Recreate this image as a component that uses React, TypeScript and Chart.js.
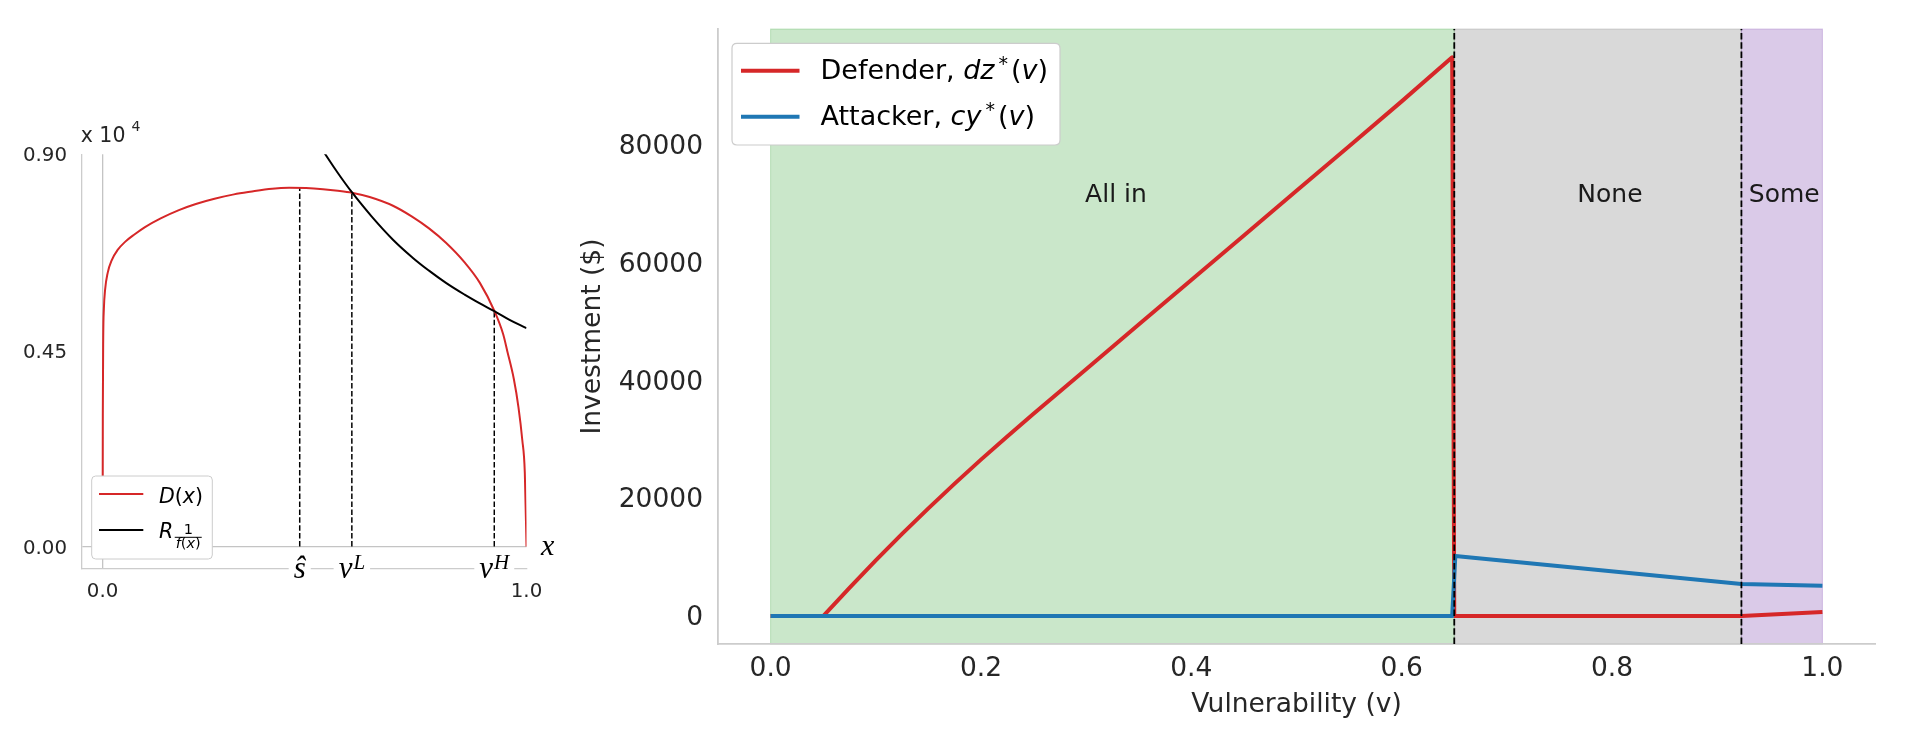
import React, { useEffect, useRef } from 'react';
import { Chart, registerables } from 'chart.js';

Chart.register(...registerables);

const SANS = "'DejaVu Sans', sans-serif";
const SERIF = "'Liberation Serif', 'DejaVu Serif', serif";
const TXT = '#262626';

// ---------------- Left panel data ----------------
const D_X = [0, 0.0005, 0.0015, 0.003, 0.006, 0.012, 0.022, 0.035, 0.053, 0.075, 0.1, 0.137, 0.18, 0.22, 0.264, 0.31, 0.348, 0.4, 0.44, 0.48, 0.52, 0.555, 0.588, 0.63, 0.685, 0.73, 0.77, 0.81, 0.854, 0.89, 0.924, 0.945, 0.955, 0.97, 0.981, 0.99, 0.996, 1.0];
const D_Y = [0, 0.3, 0.48, 0.545, 0.59, 0.628, 0.658, 0.68, 0.699, 0.716, 0.733, 0.753, 0.772, 0.786, 0.798, 0.808, 0.814, 0.821, 0.823, 0.8225, 0.82, 0.8165, 0.812, 0.802, 0.782, 0.757, 0.73, 0.697, 0.652, 0.605, 0.541, 0.487, 0.447, 0.385, 0.32, 0.245, 0.17, 0];
const R_X = [0.52, 0.555, 0.588, 0.635, 0.685, 0.73, 0.77, 0.81, 0.854, 0.89, 0.924, 0.96, 1.0];
const R_Y = [0.908, 0.857, 0.813, 0.757, 0.704, 0.664, 0.633, 0.605, 0.578, 0.558, 0.54, 0.52, 0.501];
const MARK_X = [0.465, 0.588, 0.924];
const MARK_TOP = [0.823, 0.812, 0.541];
const MARK_BASE = ['ŝ', 'v', 'v'];
const MARK_SUP = ['', 'L', 'H'];
const L_XTICKS = [0, 1];
const L_YTICKS = [0, 0.45, 0.9];
const L_XMIN = -0.05, L_XMAX = 1.0, L_YMIN = -0.05, L_YMAX = 0.9;

// ---------------- Right panel data ----------------
const V_DEF = [0, 0.05, 0.075, 0.1, 0.125, 0.15, 0.175, 0.2, 0.225, 0.25, 0.3, 0.35, 0.4, 0.45, 0.5, 0.55, 0.6, 0.648, 0.65, 0.923, 1.0];
const DEF_Y = [0, 0, 4800, 9450, 13950, 18300, 22500, 26575, 30525, 34375, 41950, 49525, 57100, 64675, 72250, 79825, 87450, 94950, 0, 0, 700];
const V_ATT = [0, 0.648, 0.651, 0.923, 1.0];
const ATT_Y = [0, 0, 10200, 5450, 5160];
const REGION_START = [0, 0.65, 0.923];
const REGION_END = [0.65, 0.923, 1.0];
const REGION_FILL = ['rgba(44,160,44,0.25)', 'rgba(128,128,128,0.3)', 'rgba(148,103,189,0.35)'];
const REGION_LABELS = ['All in', 'None', 'Some'];
const LABEL_X = [0.299, 0.767, 0.93];
const LABEL_Y = 72000;
const DASH_V = [0.65, 0.923];
const R_XTICKS = [0, 0.2, 0.4, 0.6, 0.8, 1.0];
const R_YTICKS = [0, 20000, 40000, 60000, 80000];
const R_XMIN = -0.05, R_XMAX = 1.05, R_YMIN = -4750, R_YMAX = 99750;

type Run = { t: string; font: string; dx?: number; dy?: number };

function runsWidth(ctx: CanvasRenderingContext2D, runs: Run[]) {
  let w = 0;
  for (const r of runs) {
    ctx.font = r.font;
    w += (r.dx || 0) + ctx.measureText(r.t).width;
  }
  return w;
}

function drawRuns(ctx: CanvasRenderingContext2D, x: number, y: number, runs: Run[]) {
  let cx = x;
  for (const r of runs) {
    cx += r.dx || 0;
    ctx.font = r.font;
    ctx.fillText(r.t, cx, y + (r.dy || 0));
    cx += ctx.measureText(r.t).width;
  }
  return cx;
}

function roundRect(ctx: CanvasRenderingContext2D, x: number, y: number, w: number, h: number, r: number) {
  ctx.beginPath();
  ctx.moveTo(x + r, y);
  ctx.lineTo(x + w - r, y);
  ctx.quadraticCurveTo(x + w, y, x + w, y + r);
  ctx.lineTo(x + w, y + h - r);
  ctx.quadraticCurveTo(x + w, y + h, x + w - r, y + h);
  ctx.lineTo(x + r, y + h);
  ctx.quadraticCurveTo(x, y + h, x, y + h - r);
  ctx.lineTo(x, y + r);
  ctx.quadraticCurveTo(x, y, x + r, y);
  ctx.closePath();
}

const leftPlugin = {
  id: 'leftDecor',
  afterDraw(chart: any) {
    const { ctx, chartArea: ca, scales } = chart;
    const xs = scales.x, ys = scales.y;
    ctx.save();
    const big = `italic 31px ${SERIF}`;
    const sup = `italic 21px ${SERIF}`;
    for (let i = 0; i < MARK_X.length; i++) {
      const px = xs.getPixelForValue(MARK_X[i]);
      const runs: Run[] = [{ t: MARK_BASE[i], font: big }];
      if (MARK_SUP[i]) runs.push({ t: MARK_SUP[i], font: sup, dx: 1, dy: -8.4 });
      const w = runsWidth(ctx, runs);
      const sx = px - w / 2;
      ctx.fillStyle = '#ffffff';
      ctx.fillRect(sx - 5, ca.bottom - 3, w + 10, 6);
      ctx.fillStyle = '#000000';
      ctx.textBaseline = 'alphabetic';
      ctx.textAlign = 'left';
      drawRuns(ctx, sx, ca.bottom + 9.4, runs);
    }
    ctx.fillStyle = '#000000';
    ctx.font = `italic 30px ${SERIF}`;
    ctx.textAlign = 'left';
    ctx.textBaseline = 'alphabetic';
    ctx.fillText('x', ca.right + 14.5, ys.getPixelForValue(0) + 8.5);
    ctx.fillStyle = TXT;
    const ex = drawRuns(ctx, ca.left - 0.7, ca.top - 12.6, [{ t: 'x 10', font: `20.5px ${SANS}` }]);
    drawRuns(ctx, ex + 6, ca.top - 23.5, [{ t: '4', font: `14px ${SANS}` }]);

    // legend
    const bx = ca.left + 10.3, by = ca.bottom - 92.3, bw = 120.6, bh = 83;
    roundRect(ctx, bx, by, bw, bh, 4);
    ctx.fillStyle = '#ffffff';
    ctx.fill();
    ctx.strokeStyle = '#cccccc';
    ctx.lineWidth = 1;
    ctx.stroke();
    const ds = chart.data.datasets;
    const rows = [by + 18, by + 54];
    for (let k = 0; k < 2; k++) {
      ctx.beginPath();
      ctx.moveTo(bx + 7.3, rows[k]);
      ctx.lineTo(bx + 51.6, rows[k]);
      ctx.strokeStyle = ds[k].borderColor;
      ctx.lineWidth = 2;
      ctx.stroke();
    }
    ctx.fillStyle = '#000000';
    const it20 = `italic 20.5px ${SANS}`, n20 = `20.5px ${SANS}`;
    drawRuns(ctx, bx + 67.3, by + 27.3, [
      { t: 'D', font: it20 }, { t: '(', font: n20 }, { t: 'x', font: it20 }, { t: ')', font: n20 },
    ]);
    const rEnd = drawRuns(ctx, bx + 67.3, by + 62.3, [{ t: 'R', font: it20 }]);
    const it14 = `italic 14.5px ${SANS}`, n14 = `14.5px ${SANS}`;
    const den: Run[] = [{ t: 'f', font: it14 }, { t: '(', font: n14 }, { t: 'x', font: it14 }, { t: ')', font: n14 }];
    const dw = runsWidth(ctx, den);
    const fx0 = rEnd + 1.5, fw = dw + 2;
    ctx.beginPath();
    ctx.moveTo(fx0, by + 61.3);
    ctx.lineTo(fx0 + fw, by + 61.3);
    ctx.strokeStyle = '#000000';
    ctx.lineWidth = 1;
    ctx.stroke();
    ctx.font = n14;
    const nw = ctx.measureText('1').width;
    ctx.fillText('1', fx0 + fw / 2 - nw / 2, by + 58);
    drawRuns(ctx, fx0 + 1, by + 72.3, den);
    ctx.restore();
  },
};

const rightPlugin = {
  id: 'rightDecor',
  beforeDraw(chart: any) {
    const { ctx, chartArea: ca, scales } = chart;
    const xs = scales.x;
    ctx.save();
    for (let i = 0; i < REGION_START.length; i++) {
      const x0 = xs.getPixelForValue(REGION_START[i]);
      const x1 = xs.getPixelForValue(REGION_END[i]);
      ctx.fillStyle = REGION_FILL[i];
      ctx.fillRect(x0, ca.top, x1 - x0, ca.bottom - ca.top);
      ctx.strokeStyle = REGION_FILL[i];
      ctx.lineWidth = 1;
      ctx.strokeRect(x0, ca.top, x1 - x0, ca.bottom - ca.top);
    }
    ctx.restore();
  },
  beforeDatasetsDraw(chart: any) {
    const { ctx, scales } = chart;
    ctx.save();
    ctx.fillStyle = '#1a1a1a';
    ctx.font = `25px ${SANS}`;
    ctx.textAlign = 'left';
    ctx.textBaseline = 'alphabetic';
    const py = scales.y.getPixelForValue(LABEL_Y) + 9.5;
    for (let i = 0; i < REGION_LABELS.length; i++) {
      ctx.fillText(REGION_LABELS[i], scales.x.getPixelForValue(LABEL_X[i]), py);
    }
    ctx.restore();
  },
  afterDraw(chart: any) {
    const { ctx, chartArea: ca } = chart;
    ctx.save();
    const bx = ca.left + 14, by = ca.top + 14.3, bw = 328, bh = 101.7;
    roundRect(ctx, bx, by, bw, bh, 5);
    ctx.fillStyle = '#ffffff';
    ctx.fill();
    ctx.strokeStyle = '#cccccc';
    ctx.lineWidth = 1.2;
    ctx.stroke();
    const ds = chart.data.datasets;
    const rows = [by + 27.4, by + 73.4];
    for (let k = 0; k < 2; k++) {
      ctx.beginPath();
      ctx.moveTo(bx + 9, rows[k]);
      ctx.lineTo(bx + 67.5, rows[k]);
      ctx.strokeStyle = ds[k].borderColor;
      ctx.lineWidth = 4;
      ctx.stroke();
    }
    const n = `27px ${SANS}`, it = `italic 27px ${SANS}`, s = `19px ${SANS}`;
    ctx.fillStyle = '#000000';
    ctx.textAlign = 'left';
    ctx.textBaseline = 'alphabetic';
    drawRuns(ctx, bx + 88.5, by + 36, [
      { t: 'Defender, ', font: n }, { t: 'dz', font: it }, { t: '*', font: s, dx: 4, dy: -9 },
      { t: '(', font: n, dx: 3 }, { t: 'v', font: it }, { t: ')', font: n },
    ]);
    drawRuns(ctx, bx + 88.5, by + 81.7, [
      { t: 'Attacker, ', font: n }, { t: 'cy', font: it }, { t: '*', font: s, dx: 4, dy: -9 },
      { t: '(', font: n, dx: 3 }, { t: 'v', font: it }, { t: ')', font: n },
    ]);
    ctx.restore();
  },
};

function leftConfig(): any {
  const dashed = MARK_X.map((mx, i) => ({
    label: 'mark' + i,
    data: [{ x: mx, y: 0 }, { x: mx, y: MARK_TOP[i] }],
    borderColor: '#000000',
    borderWidth: 1.5,
    borderDash: [5.5, 2.4],
    pointRadius: 0,
    order: 3,
  }));
  return {
    type: 'line',
    data: {
      datasets: [
        {
          label: 'D(x)',
          data: D_X.map((x, i) => ({ x, y: D_Y[i] })),
          borderColor: '#d62728',
          borderWidth: 2,
          pointRadius: 0,
          cubicInterpolationMode: 'monotone',
          borderJoinStyle: 'round',
          order: 2,
        },
        {
          label: 'R',
          data: R_X.map((x, i) => ({ x, y: R_Y[i] })),
          borderColor: '#000000',
          borderWidth: 2,
          pointRadius: 0,
          tension: 0.4,
          order: 1,
        },
        ...dashed,
      ],
    },
    options: {
      animation: false,
      responsive: false,
      devicePixelRatio: 1,
      layout: { padding: { left: 0, top: 154.3, right: 73.5, bottom: 0 } },
      plugins: { legend: { display: false }, tooltip: { enabled: false } },
      scales: {
        x: {
          type: 'linear',
          min: L_XMIN,
          max: L_XMAX,
          afterFit: (s: any) => { s.height = 181.7; },
          afterBuildTicks: (s: any) => { s.ticks = L_XTICKS.map((v) => ({ value: v })); },
          grid: {
            drawTicks: false,
            lineWidth: 1.3,
            color: (c: any) => (c.tick && c.tick.value === 0 ? '#c4c4c4' : 'rgba(0,0,0,0)'),
          },
          border: { color: '#cccccc', width: 1.3 },
          ticks: {
            padding: 12,
            autoSkip: false,
            maxRotation: 0,
            color: TXT,
            font: { family: SANS, size: 19.8 },
            callback: (v: any) => Number(v).toFixed(1),
          },
        },
        y: {
          type: 'linear',
          min: L_YMIN,
          max: L_YMAX,
          afterFit: (s: any) => { s.width = 81.4; },
          afterBuildTicks: (s: any) => { s.ticks = L_YTICKS.map((v) => ({ value: v })); },
          grid: {
            drawTicks: false,
            lineWidth: 1.3,
            color: (c: any) => (c.tick && c.tick.value === 0 ? '#c4c4c4' : 'rgba(0,0,0,0)'),
          },
          border: { color: '#cccccc', width: 1.3 },
          ticks: {
            padding: 14.4,
            autoSkip: false,
            color: TXT,
            font: { family: SANS, size: 19.8, lineHeight: '4px' },
            callback: (v: any) => ['', Number(v).toFixed(2)],
          },
        },
      },
    },
    plugins: [leftPlugin],
  };
}

function rightConfig(): any {
  const dashed = DASH_V.map((dv, i) => ({
    label: 'dash' + i,
    data: [{ x: dv, y: R_YMIN }, { x: dv, y: R_YMAX }],
    borderColor: '#000000',
    borderWidth: 1.8,
    borderDash: [6.5, 2.8],
    pointRadius: 0,
    order: -1,
  }));
  return {
    type: 'line',
    data: {
      datasets: [
        {
          label: 'Defender',
          data: V_DEF.map((x, i) => ({ x, y: DEF_Y[i] })),
          borderColor: '#d62728',
          borderWidth: 4,
          pointRadius: 0,
          borderJoinStyle: 'round',
          order: 1,
        },
        {
          label: 'Attacker',
          data: V_ATT.map((x, i) => ({ x, y: ATT_Y[i] })),
          borderColor: '#1f77b4',
          borderWidth: 4,
          pointRadius: 0,
          borderJoinStyle: 'round',
          order: 0,
        },
        ...dashed,
      ],
    },
    options: {
      animation: false,
      responsive: false,
      devicePixelRatio: 1,
      layout: { padding: { left: 0, top: 29, right: 31, bottom: 0 } },
      plugins: { legend: { display: false }, tooltip: { enabled: false } },
      scales: {
        x: {
          type: 'linear',
          min: R_XMIN,
          max: R_XMAX,
          afterFit: (s: any) => { s.height = 106; },
          afterBuildTicks: (s: any) => { s.ticks = R_XTICKS.map((v) => ({ value: v })); },
          grid: { display: false, drawTicks: false },
          border: { color: '#cccccc', width: 1.8 },
          title: {
            display: true,
            text: 'Vulnerability (v)',
            color: TXT,
            font: { family: SANS, size: 26.5 },
            padding: { top: 0, bottom: 29 },
          },
          ticks: {
            padding: 9,
            autoSkip: false,
            maxRotation: 0,
            color: TXT,
            font: { family: SANS, size: 26.5 },
            callback: (v: any) => Number(v).toFixed(1),
          },
        },
        y: {
          type: 'linear',
          min: R_YMIN,
          max: R_YMAX,
          afterFit: (s: any) => { s.width = 158; },
          afterBuildTicks: (s: any) => { s.ticks = R_YTICKS.map((v) => ({ value: v })); },
          grid: { display: false, drawTicks: false },
          border: { color: '#cccccc', width: 1.8 },
          title: {
            display: true,
            text: 'Investment ($)',
            color: TXT,
            font: { family: SANS, size: 26.5 },
            padding: { top: 17, bottom: 0 },
          },
          ticks: {
            padding: 15,
            autoSkip: false,
            color: TXT,
            font: { family: SANS, size: 26.5, lineHeight: '4px' },
            callback: (v: any) => ['', String(v)],
          },
        },
      },
    },
    plugins: [rightPlugin],
  };
}

export default function App() {
  const leftRef = useRef<HTMLCanvasElement>(null);
  const rightRef = useRef<HTMLCanvasElement>(null);
  useEffect(() => {
    const c1 = new Chart(leftRef.current as HTMLCanvasElement, leftConfig());
    const c2 = new Chart(rightRef.current as HTMLCanvasElement, rightConfig());
    return () => {
      c1.destroy();
      c2.destroy();
    };
  }, []);
  return (
    <div style={{ position: 'fixed', left: 0, top: 0, width: 1906, height: 750, background: '#ffffff', overflow: 'hidden' }}>
      <canvas ref={leftRef} width={600} height={750} style={{ position: 'absolute', left: 0, top: 0, width: 600, height: 750 }} />
      <canvas ref={rightRef} width={1346} height={750} style={{ position: 'absolute', left: 560, top: 0, width: 1346, height: 750 }} />
    </div>
  );
}
